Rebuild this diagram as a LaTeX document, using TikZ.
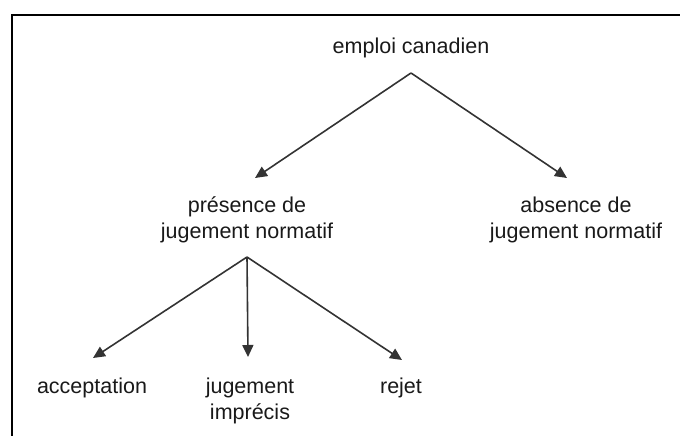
\documentclass[tikz,border=0pt]{standalone}
\usepackage{fontspec}
\setmainfont{Liberation Sans}
\usetikzlibrary{arrows.meta}

\begin{document}
\begin{tikzpicture} [x=1pt, y=-1pt,
    label/.style = {inner sep=0pt,
    anchor=base,
    align=center,
    font=\fontsize{21.5}{25.5}\selectfont,
    text=black!90},
    branch/.style = {draw=black!80,
    line width=1.6pt,
    -{Triangle[length=12pt,width=11pt]}}]

\useasboundingbox (0,0) rectangle (680,436);
\draw [line width=2pt] (11.5,436) -- (11.5,15.5) -- (680,15.5);

% base anchor of a two-line node sits on its last line
\node (root) at (411,54) [label] {emploi canadien};
\node (pres) at (247,238) [label] {présence de\\jugement normatif};
\node (abs) at (576,238) [label] {absence de\\jugement normatif};
\node (acc) at (92,393) [label] {acceptation};
\node (impr) at (250,419) [label] {jugement\\imprécis};
\node (rej) at (401,393) [label] {rejet};

\coordinate (rootfork) at (411,73);
\coordinate (presfork) at (247,257);
\coordinate (presin) at (255,178);
\coordinate (absin) at (567,178);
\coordinate (accin) at (93,358);
\coordinate (imprin) at (248,357);
\coordinate (rejin) at (402,360);

\draw [branch] (rootfork) -- (presin);
\draw [branch] (rootfork) -- (absin);
\draw [branch] (presfork) -- (accin);
\draw [branch] (presfork) -- (imprin);
\draw [branch] (presfork) -- (rejin);

\end{tikzpicture}
\end{document}
